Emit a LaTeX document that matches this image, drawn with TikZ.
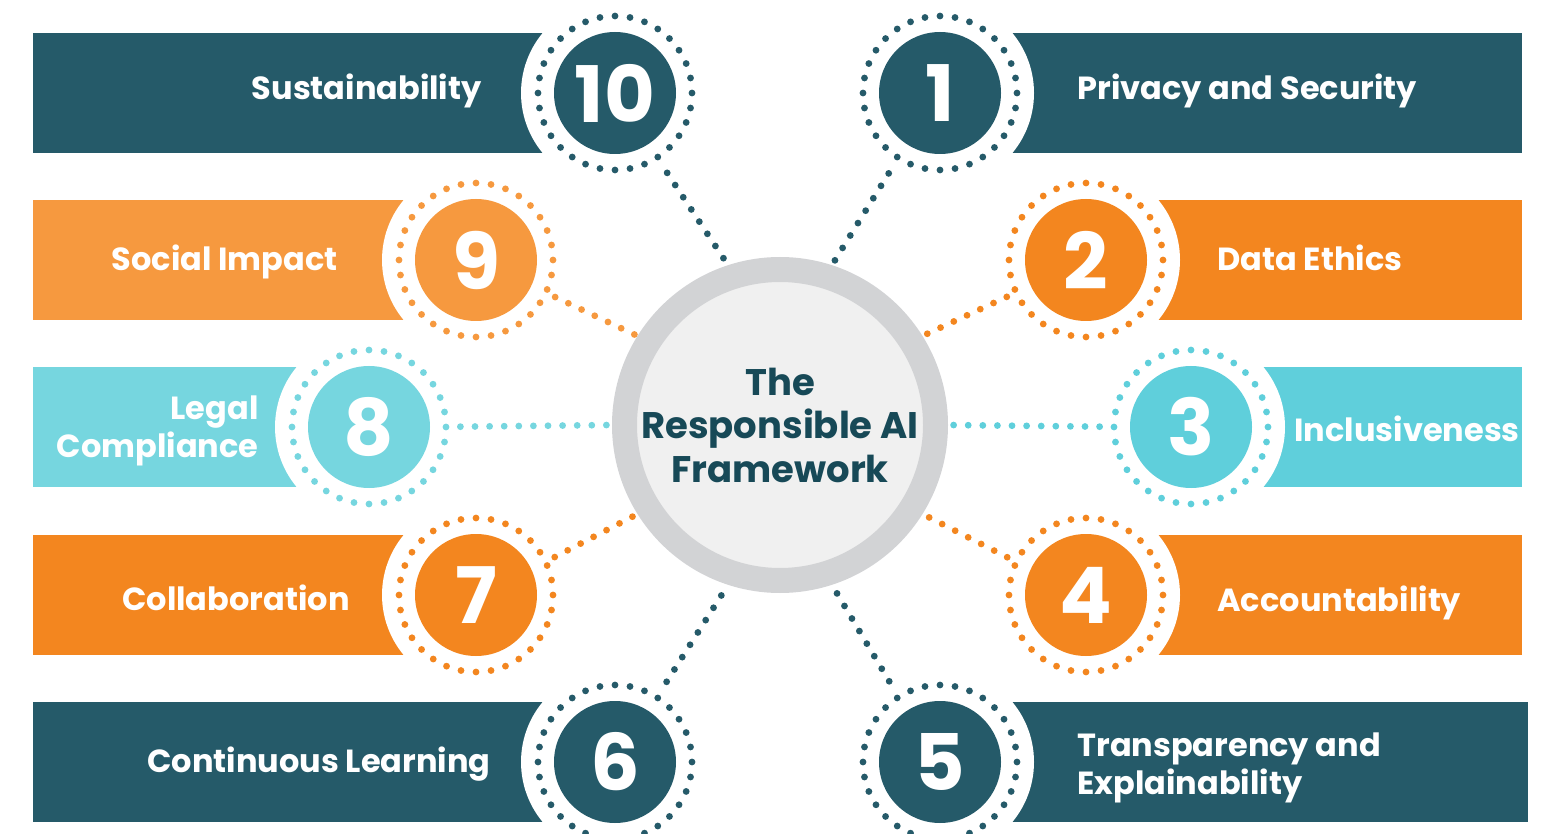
\documentclass[tikz,border=0pt]{standalone}
\usepackage{fontspec}
\setmainfont{Poppins}
\usetikzlibrary{positioning}
\definecolor{darkteal}{HTML}{255A69}
\definecolor{lorange}{HTML}{F6993F}
\definecolor{dorange}{HTML}{F3861F}
\definecolor{lcyan}{HTML}{76D6DF}
\definecolor{rcyan}{HTML}{5FCFDB}
\definecolor{ringgrey}{HTML}{D2D3D5}
\definecolor{coregrey}{HTML}{F0F0F0}
\definecolor{coretext}{HTML}{174957}
\begin{document}
\begin{tikzpicture}[x=0.5pt, y=-0.5pt,
    num/.style = {circle, fill=#1, minimum size=61pt, inner sep=0pt, text=white,
                  font=\bfseries\fontsize{39}{39}\selectfont},
    ring/.style = {draw=#1, line width=3.4pt, line cap=round, dash pattern=on 0pt off 7.56pt},
    link/.style = {draw=#1, line width=3.4pt, line cap=round, dash pattern=on 0pt off 7.3pt},
    lbl/.style = {text=white, inner sep=0pt, font=\bfseries\fontsize{16}{19}\selectfont},
    core/.style = {circle, fill=coregrey, draw=ringgrey, line width=12.5pt, minimum size=155.5pt,
                   inner sep=0pt, align=center, text=coretext,
                   font=\bfseries\fontsize{18.5}{21.75}\selectfont}]
  \useasboundingbox (0,0) rectangle (1549,834);
  % bars
  \fill[darkteal] (33,33) rectangle (615,153);
  \fill[darkteal] (940,33) rectangle (1522,153);
  \fill[lorange] (33,200) rectangle (476,320);
  \fill[dorange] (1086,200) rectangle (1522,320);
  \fill[lcyan] (33,367) rectangle (369,487);
  \fill[rcyan] (1191,367) rectangle (1522,487);
  \fill[dorange] (33,535) rectangle (476,655);
  \fill[dorange] (1086,535) rectangle (1522,655);
  \fill[darkteal] (33,702) rectangle (615,822);
  \fill[darkteal] (940,702) rectangle (1528,822);
  % white cut-outs
  \foreach \x/\y in {615/93, 940/93, 476/260, 1086/260, 369/427, 1191/427,
                     476/595, 1086/595, 615/762, 940/762}
    \fill[white] (\x,\y) circle[radius=47pt];
  % numbers
  \node[num=darkteal] (n10) at (615,93) {10};
  \node[num=darkteal] (n1) at (940,93) {1};
  \node[num=lorange] (n9) at (476,260) {9};
  \node[num=dorange] (n2) at (1086,260) {2};
  \node[num=lcyan] (n8) at (369,427) {8};
  \node[num=rcyan] (n3) at (1191,427) {3};
  \node[num=dorange] (n7) at (476,595) {7};
  \node[num=dorange] (n4) at (1086,595) {4};
  \node[num=darkteal] (n6) at (615,762) {6};
  \node[num=darkteal] (n5) at (940,762) {5};
  \foreach \n/\c in {n10/darkteal, n1/darkteal, n9/lorange, n2/dorange, n8/lcyan,
                     n3/rcyan, n7/dorange, n4/dorange, n6/darkteal, n5/darkteal}
    \draw[ring=\c] (\n) circle[radius=38.5pt];
  % labels
  \node[lbl, anchor=base east] (t10) at (482,100) {Sustainability};
  \node[lbl, anchor=base west] (t1) at (1077,100) {Privacy and Security};
  \node[lbl, anchor=base east] (t9) at (338,271) {Social Impact};
  \node[lbl, anchor=base west] (t2) at (1217,271) {Data Ethics};
  \node[lbl, anchor=east, align=right] (t8) at (259,431) {Legal\\Compliance};
  \node[lbl, anchor=base west] (t3) at (1294,442) {Inclusiveness};
  \node[lbl, anchor=base east] (t7) at (350,610) {Collaboration};
  \node[lbl, anchor=base west] (t4) at (1217,611) {Accountability};
  \node[lbl, anchor=base east] (t6) at (491,772) {Continuous Learning};
  \node[lbl, anchor=west, align=left] (t5) at (1077,768) {Transparency and\\Explainability};
  % centre
  \node[core] (core) at (780,425) {The\\Responsible AI\\Framework};
  %
  \draw[link=darkteal, shorten <=17pt] (n10.-57) -- (core.108);
  \draw[link=darkteal, shorten <=17pt] (n1.237) -- (core.72);
  \draw[link=lorange, shorten <=13pt] (n9.-25) -- (core.148);
  \draw[link=dorange, shorten <=13pt] (n2.205) -- (core.32);
  \draw[link=lcyan, shorten <=15pt] (n8.0) -- (core.180);
  \draw[link=rcyan, shorten <=15pt] (n3.180) -- (core.0);
  \draw[link=dorange, shorten <=13pt] (n7.25) -- (core.212);
  \draw[link=dorange, shorten <=13pt] (n4.155) -- (core.-32);
  \draw[link=darkteal, shorten <=17pt] (n6.57) -- (core.252);
  \draw[link=darkteal, shorten <=17pt] (n5.123) -- (core.-72);
\end{tikzpicture}
\end{document}
